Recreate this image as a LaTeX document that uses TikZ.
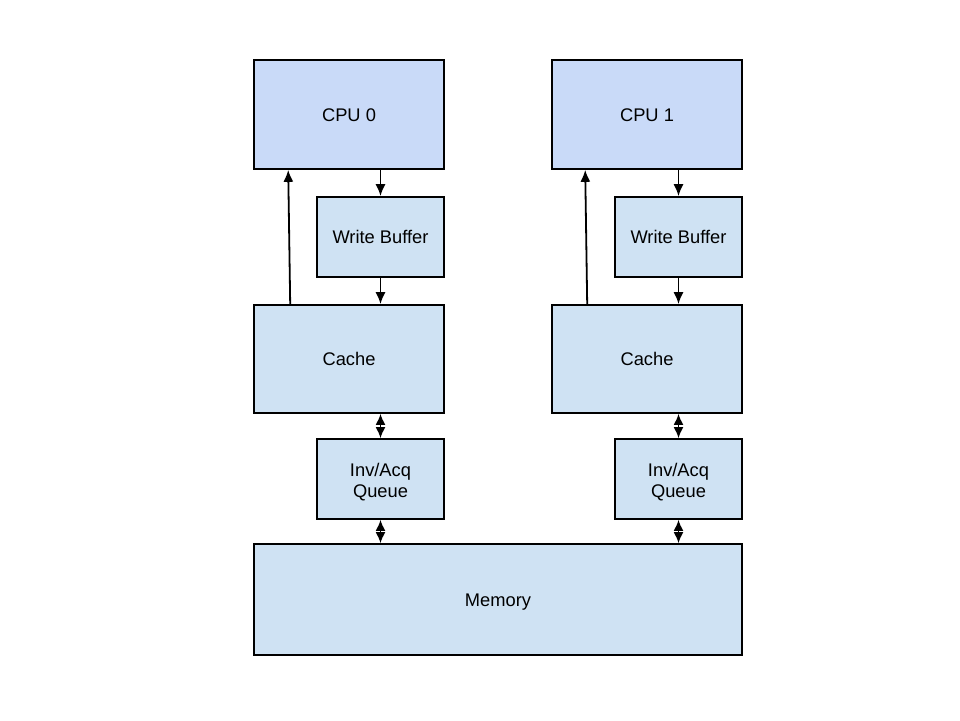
\documentclass[tikz,border=0pt]{standalone}
\usepackage{fontspec}
\setmainfont{Liberation Sans}
\usetikzlibrary{arrows.meta,calc}
\definecolor{cpufill}{HTML}{C9DAF8}
\definecolor{boxfill}{HTML}{CFE2F3}
\tikzset{
  x=1pt, y=-1pt,
  box/.style={draw=black, line width=1.6pt, fill=boxfill, inner sep=0pt,
    font=\fontsize{18.3}{21}\selectfont, align=center},
  onebox/.style={box, text height=13pt, text depth=0pt},
  cpubox/.style={onebox, fill=cpufill},
  arr/.style={line width=1.8pt, -{Latex[length=12pt,width=10pt]}},
  darr/.style={line width=1.8pt, {Latex[length=11pt,width=10pt]}-{Latex[length=11pt,width=10pt]}},
}
\begin{document}
\begin{tikzpicture}
\useasboundingbox (0,0) rectangle (960,720);
% left column
\node[cpubox, minimum width=190pt, minimum height=109pt] (cpu0) at (349,114.5) {CPU 0};
\node[onebox, minimum width=127pt, minimum height=80pt] (wb0) at (380.5,237) {Write Buffer};
\node[onebox, minimum width=190pt, minimum height=108pt] (cache0) at (349,359) {Cache};
\node[box, minimum width=127pt, minimum height=80pt] (inv0) at (380.5,479) {\rule{0pt}{19pt}Inv/Acq\\Queue};
% right column
\node[cpubox, minimum width=190pt, minimum height=109pt] (cpu1) at (647,114.5) {CPU 1};
\node[onebox, minimum width=127pt, minimum height=80pt] (wb1) at (678.5,237) {Write Buffer};
\node[onebox, minimum width=190pt, minimum height=108pt] (cache1) at (647,359) {Cache};
\node[box, minimum width=127pt, minimum height=80pt] (inv1) at (678.5,479) {\rule{0pt}{19pt}Inv/Acq\\Queue};
% memory
\node[onebox, minimum width=488pt, minimum height=111pt] (mem) at (498,599.5) {Memory};
% connectors left
\draw[arr] (cpu0.south -| wb0.north) -- (wb0.north);
\draw[arr] (wb0.south) -- (wb0.south |- cache0.north);
\draw[arr] ($(cache0.north west)+(37,0)$) -- ($(cpu0.south west)+(35,0)$);
\draw[darr] (cache0.south -| inv0.north) -- (inv0.north);
\draw[darr] (inv0.south) -- (inv0.south |- mem.north);
% connectors right
\draw[arr] (cpu1.south -| wb1.north) -- (wb1.north);
\draw[arr] (wb1.south) -- (wb1.south |- cache1.north);
\draw[arr] ($(cache1.north west)+(36,0)$) -- ($(cpu1.south west)+(34,0)$);
\draw[darr] (cache1.south -| inv1.north) -- (inv1.north);
\draw[darr] (inv1.south) -- (inv1.south |- mem.north);
\end{tikzpicture}
\end{document}
